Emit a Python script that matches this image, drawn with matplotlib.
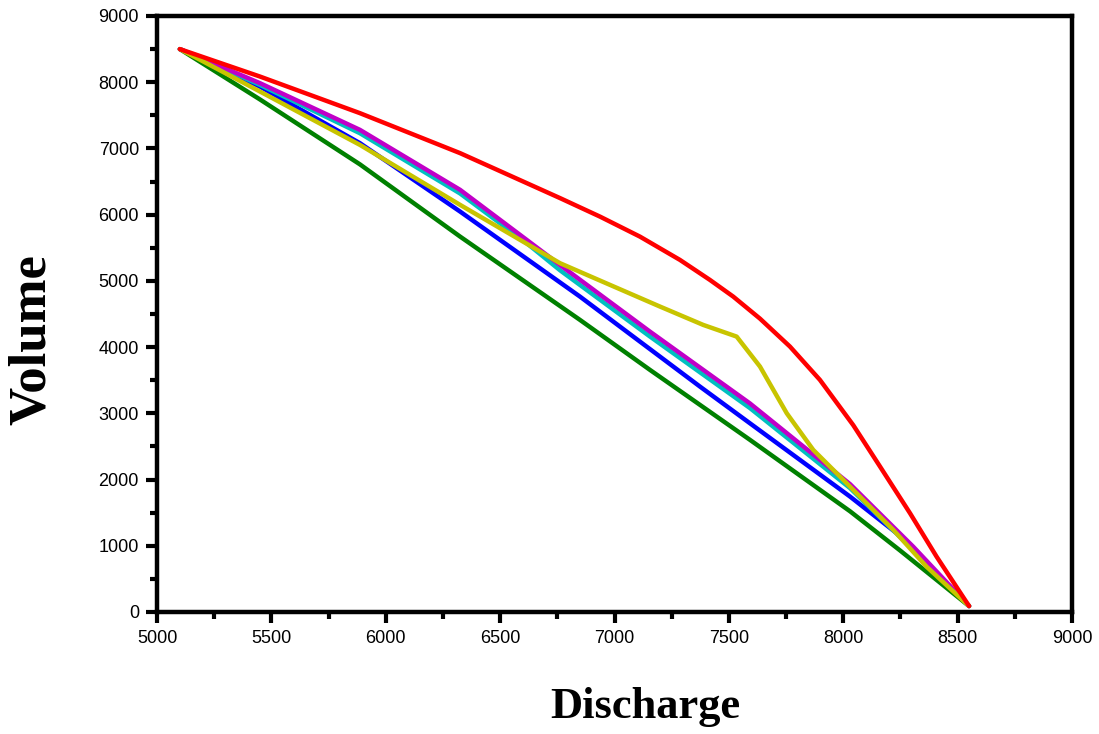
import matplotlib
matplotlib.use("Agg")
import matplotlib.pyplot as plt
from matplotlib.ticker import MultipleLocator

# ---- data ----
green_x = [5100, 5450, 5887, 6325, 6849, 7155, 7592, 8030, 8248, 8550]
green_y = [8500, 7740, 6760, 5669, 4411, 3656, 2600, 1520, 930, 90]

blue_x = [5100, 5450, 5887, 6325, 6849, 7082, 7374, 7592, 8030, 8234, 8550]
blue_y = [8500, 7935, 7080, 6047, 4763, 4159, 3403, 2850, 1742, 1189, 90]

cyan_x = [5100, 5450, 5887, 6325, 6616, 6762, 7155, 7592, 8030, 8306, 8550]
cyan_y = [8500, 7960, 7230, 6320, 5570, 5160, 4160, 3080, 1870, 940, 90]

magenta_x = [5100, 5450, 5887, 6325, 6616, 6762, 7155, 7592, 8030, 8306, 8550]
magenta_y = [8500, 7986, 7281, 6375, 5620, 5240, 4234, 3150, 1930, 986, 90]

yellow_x = [5100, 5450, 5887, 6325, 6762, 6980, 7199, 7388, 7534, 7636, 7753, 7869,
            7986, 8102, 8219, 8364, 8550]
yellow_y = [8500, 7860, 7054, 6148, 5267, 4940, 4612, 4335, 4159, 3706, 3001, 2447,
            2044, 1642, 1239, 685, 90]

red_x = [5100, 5450, 5887, 6325, 6762, 6937, 7111, 7286, 7417, 7519, 7636, 7767,
         7898, 8044, 8161, 8292, 8408, 8550]
red_y = [8500, 8086, 7533, 6929, 6250, 5970, 5669, 5317, 5015, 4763, 4430, 4008,
         3505, 2820, 2195, 1491, 836, 90]

x_ticks = [5000, 5500, 6000, 6500, 7000, 7500, 8000, 8500, 9000]
y_ticks = [0, 1000, 2000, 3000, 4000, 5000, 6000, 7000, 8000, 9000]

series = [
    (green_x, green_y, "#008000"),
    (blue_x, blue_y, "#0000FF"),
    (cyan_x, cyan_y, "#00C0C0"),
    (magenta_x, magenta_y, "#C000C8"),
    (yellow_x, yellow_y, "#C8C400"),
    (red_x, red_y, "#FF0000"),
]

fig = plt.figure(figsize=(10.99, 7.34), dpi=100)
ax = fig.add_axes([157 / 1099, 1 - 612 / 734, (1072 - 157) / 1099, (612 - 16) / 734])

for xs, ys, c in series:
    ax.plot(xs, ys, color=c, lw=3.2, solid_capstyle="round", solid_joinstyle="round")

ax.set_xlim(5000, 9000)
ax.set_ylim(0, 9000)
ax.set_xticks(x_ticks)
ax.set_yticks(y_ticks)
ax.set_xticklabels([str(v) for v in x_ticks])
ax.set_yticklabels([str(v) for v in y_ticks])
ax.xaxis.set_minor_locator(MultipleLocator(250))
ax.yaxis.set_minor_locator(MultipleLocator(500))

for s in ax.spines.values():
    s.set_linewidth(3.2)
ax.tick_params(which="major", direction="out", length=8, width=3, labelsize=13, pad=5)
ax.tick_params(which="minor", direction="out", length=5, width=3)
for lab in ax.get_xticklabels() + ax.get_yticklabels():
    lab.set_fontfamily("Liberation Sans")

fig.text(645 / 1099, 1 - 707 / 734, "Discharge", ha="center", va="center",
         fontsize=32, fontweight="bold", family="Liberation Serif")
fig.text(32 / 1099, 1 - 340 / 734, "Volume", ha="center", va="center", rotation=90,
         fontsize=38, fontweight="bold", family="Liberation Serif")

fig.savefig("out.png", dpi=100)
